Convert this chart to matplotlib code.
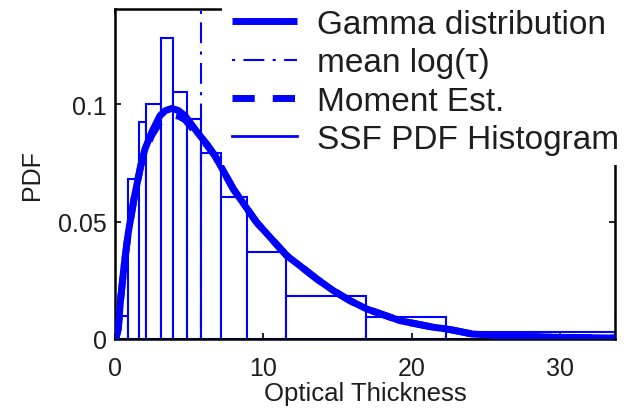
import matplotlib
matplotlib.use("Agg")
import matplotlib.pyplot as plt
import numpy as np

plt.rcParams["font.family"] = ["Liberation Sans", "DejaVu Sans"]

# histogram of the SSF optical thickness (variable bin widths)
bin_edges = [0, 0.9, 1.62, 2.07, 3.07, 3.91, 4.85, 5.82, 7.15, 8.88, 11.55, 16.92, 22.32, 33.7]
bin_heights = [0.0099, 0.0682, 0.0926, 0.1002, 0.1283, 0.1055, 0.094, 0.0792, 0.0605,
               0.0370, 0.0183, 0.0092, 0.0028]

# fitted gamma pdf
gamma_x = [0.05, 0.22, 0.38, 0.61, 0.9, 1.28, 1.73, 2.02, 2.47, 3.03, 3.4, 3.82, 4.25,
           4.72, 5.55, 6.2, 6.74, 7.98, 9.55, 11.58, 12.47, 13.6, 14.72, 15.85, 16.97,
           19.22, 21.46, 22.36, 24.1, 26.4, 29.0, 33.7]
gamma_y = [0.0, 0.0043, 0.017, 0.0312, 0.0455, 0.0597, 0.0739, 0.081, 0.0881, 0.0952,
           0.0974, 0.0983, 0.0975, 0.0952, 0.0881, 0.083, 0.0781, 0.0639, 0.0497, 0.0355,
           0.0312, 0.0256, 0.0206, 0.0163, 0.0128, 0.0078, 0.005, 0.0043, 0.0021, 0.0014,
           0.0008, 0.0004]

# moment estimate pdf
moment_x = [0.05, 0.22, 0.38, 0.61, 0.9, 1.28, 1.73, 2.02, 2.47, 3.03, 3.45, 3.9, 4.3,
            4.72, 5.55, 6.2, 6.74, 7.98, 9.55, 11.58, 12.47, 13.6, 14.72, 15.85, 16.97,
            19.22, 21.46, 22.36, 24.1, 26.4, 29.0, 33.7]
moment_y = [0.0, 0.0043, 0.017, 0.0312, 0.0455, 0.0597, 0.0735, 0.0802, 0.0868, 0.0925,
            0.0948, 0.0955, 0.0950, 0.0935, 0.0872, 0.0826, 0.0781, 0.0639, 0.0497, 0.0355,
            0.0312, 0.0256, 0.0206, 0.0163, 0.0128, 0.0078, 0.005, 0.0043, 0.0021, 0.0014,
            0.0008, 0.0004]

mean_log_tau = 5.82

blue = "#0000ff"
txt = "#1e1e1e"

fig = plt.figure(figsize=(6.32, 4.10), dpi=100)
ax = fig.add_axes([115 / 632, 70 / 410, 500 / 632, 330 / 410])

widths = np.diff(bin_edges)
ax.bar(bin_edges[:-1], bin_heights, width=widths, align="edge", facecolor="white",
       edgecolor=blue, linewidth=1.5, zorder=1)

h_gamma, = ax.plot(gamma_x, gamma_y, color=blue, lw=5, solid_capstyle="butt",
                   solid_joinstyle="round", zorder=3)
h_mean = ax.axvline(mean_log_tau, color=blue, lw=1.5, linestyle=(0, (1.5, 4, 10, 4)), zorder=2)
h_mom, = ax.plot(moment_x, moment_y, color=blue, lw=5, linestyle=(0, (3.2, 2.6)), zorder=4)
h_hist, = ax.plot([], [], color=blue, lw=2)

ax.set_xlim(0, 33.7)
ax.set_ylim(0, 0.1407)
ax.set_xticks([0, 10, 20, 30])
ax.set_yticks([0, 0.05, 0.1])
ax.set_yticklabels(["0", "0.05", "0.1"])
ax.tick_params(direction="in", length=4, width=1.2, top=True, right=True,
               labelsize=18, labelcolor=txt)
ax.tick_params(axis="x", pad=12)
ax.tick_params(axis="y", pad=6)
for s in ax.spines.values():
    s.set_linewidth(1.8)

ax.set_xlabel("Optical Thickness", fontsize=18.5, color=txt, labelpad=1)
ax.set_ylabel("PDF", fontsize=18, color=txt, labelpad=10)

leg = fig.legend([h_gamma, h_mean, h_mom, h_hist],
                 ["Gamma distribution", "mean log(\u03c4)", "Moment Est.", "SSF PDF Histogram"],
                 loc="upper left", bbox_to_anchor=(222 / 632, 1.0), fontsize=24,
                 frameon=True, fancybox=False, framealpha=1, borderaxespad=0,
                 borderpad=0.3, handlelength=1.95, handletextpad=0.6, labelspacing=0.22)
leg.get_frame().set_edgecolor("none")
leg.get_frame().set_facecolor("white")
for t in leg.get_texts():
    t.set_color(txt)

fig.savefig("out.png", dpi=100)
